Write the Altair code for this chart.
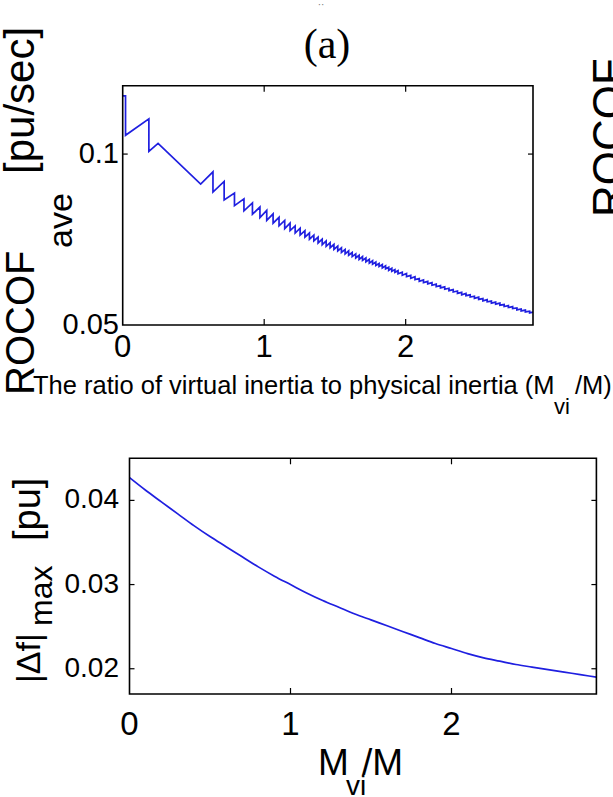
import altair as alt
import pandas as pd

# ---------------- data ----------------
# Panel (a) top: ROCOF_ave vs Mvi/M  (saw-tooth curve)
top_head_x = [0.0, 0.02, 0.02, 0.185, 0.185, 0.250, 0.551]
top_head_y = [0.1170, 0.1170, 0.1055, 0.1103, 0.1008, 0.1031, 0.0912]

tooth_x = [0.638, 0.717, 0.790, 0.857, 0.917, 0.970, 1.018, 1.063, 1.105, 1.145,
           1.183, 1.219, 1.254, 1.288, 1.320, 1.351, 1.381, 1.410, 1.438, 1.466,
           1.493, 1.520, 1.546, 1.572, 1.597, 1.622, 1.647, 1.671, 1.695, 1.719,
           1.743, 1.766, 1.789, 1.812, 1.835, 1.858, 1.880, 1.902, 1.924, 1.946,
           1.976, 2.006, 2.036, 2.066, 2.096, 2.126, 2.156, 2.186, 2.216, 2.246,
           2.276, 2.306, 2.336, 2.366, 2.396, 2.426, 2.456, 2.486, 2.516, 2.546,
           2.576, 2.606, 2.636, 2.666, 2.696, 2.726, 2.756, 2.786, 2.816, 2.846,
           2.876]
tooth_hi = [0.0948, 0.0920, 0.0886, 0.0869, 0.0857, 0.0845, 0.0835, 0.0825, 0.0815, 0.0806,
            0.0798, 0.0790, 0.0783, 0.0776, 0.0769, 0.0763, 0.0757, 0.0751, 0.0746, 0.0741,
            0.0736, 0.0731, 0.0726, 0.0721, 0.0717, 0.0712, 0.0708, 0.0704, 0.0700, 0.0696,
            0.0692, 0.0688, 0.0684, 0.0680, 0.0677, 0.0673, 0.0669, 0.0666, 0.0662, 0.0659,
            0.06545, 0.06505, 0.06453, 0.06412, 0.06360, 0.06319, 0.06278, 0.06237, 0.06196, 0.06155,
            0.06115, 0.06075, 0.06035, 0.05995, 0.05955, 0.05923, 0.05883, 0.05843, 0.05812, 0.05772,
            0.05741, 0.05700, 0.05670, 0.05640, 0.05598, 0.05568, 0.05538, 0.05497, 0.05467, 0.05436,
            0.05405]
tooth_lo = [0.0889, 0.0866, 0.0849, 0.0834, 0.0824, 0.0814, 0.0806, 0.0798, 0.0790, 0.0782,
            0.0776, 0.0769, 0.0763, 0.0757, 0.0751, 0.0746, 0.0740, 0.0735, 0.0730, 0.0726,
            0.0721, 0.0717, 0.0712, 0.0708, 0.0704, 0.0700, 0.0696, 0.0692, 0.0689, 0.0685,
            0.0681, 0.0678, 0.0674, 0.0671, 0.0667, 0.0664, 0.0660, 0.0657, 0.0654, 0.0650,
            0.06455, 0.06415, 0.06367, 0.06328, 0.06280, 0.06241, 0.06202, 0.06163, 0.06124, 0.06085,
            0.06045, 0.06005, 0.05965, 0.05925, 0.05885, 0.05857, 0.05817, 0.05777, 0.05748, 0.05708,
            0.05679, 0.05640, 0.05610, 0.05580, 0.05542, 0.05512, 0.05482, 0.05443, 0.05413, 0.05384,
            0.05355]
top_end_x = [2.9]
top_end_y = [0.05375]

# Bottom panel: |Δf|max vs Mvi/M
bot_x = [0.0, 0.1, 0.2, 0.3, 0.4, 0.5, 0.6, 0.7, 0.8, 0.9,
         1.0, 1.1, 1.2, 1.3, 1.4, 1.5, 1.6, 1.7, 1.8, 1.9,
         2.0, 2.1, 2.2, 2.3, 2.4, 2.5, 2.6, 2.7, 2.8, 2.9]
bot_y = [0.0427, 0.0412, 0.0398, 0.0384, 0.0370, 0.0357, 0.0345, 0.0333, 0.0321, 0.0310,
         0.0300, 0.0290, 0.0281, 0.0273, 0.0265, 0.0258, 0.0251, 0.0244, 0.0237, 0.0230,
         0.0224, 0.0218, 0.0213, 0.0209, 0.0205, 0.0202, 0.0199, 0.0196, 0.0193, 0.0190]

# axis limits and tick labels
x_limits = [0.0, 2.9]
top_y_limits = [0.05, 0.12]
bot_y_limits = [0.017, 0.045]
x_tick_vals = [0, 1, 2]
x_tick_text = ["0", "1", "2"]
top_y_tick_vals = [0.05, 0.1]
top_y_tick_text = ["0.05", "0.1"]
bot_y_tick_vals = [0.02, 0.03, 0.04]
bot_y_tick_text = ["0.02", "0.03", "0.04"]

# ---------------- layout / style ----------------
W, H = 613, 797
T_L, T_R, T_T, T_B = 122.7, 533.0, 85.7, 325.0
B_L, B_R, B_T, B_B = 129.5, 596.4, 458.3, 694.0
BLUE = "#1f1fe0"
SANS = "Liberation Sans, Arial, sans-serif"
SERIF = "Liberation Serif, Times New Roman, serif"

TX = alt.Scale(domain=x_limits, range=[T_L, T_R], nice=False, zero=False)
TY = alt.Scale(domain=top_y_limits, range=[T_B, T_T], nice=False, zero=False)
BX = alt.Scale(domain=x_limits, range=[B_L, B_R], nice=False, zero=False)
BY = alt.Scale(domain=bot_y_limits, range=[B_B, B_T], nice=False, zero=False)

# ---------------- build top curve table ----------------
rows = list(zip(top_head_x, top_head_y))
for xv, hv, lv in zip(tooth_x, tooth_hi, tooth_lo):
    rows.append((xv, hv))
    rows.append((xv, lv))
rows += list(zip(top_end_x, top_end_y))
top_df = pd.DataFrame(rows, columns=["x", "y"])
top_df["i"] = range(len(top_df))
bot_df = pd.DataFrame({"x": bot_x, "y": bot_y})

layers = []


def frame(xs, ys, ylim):
    df = pd.DataFrame({"x0": [x_limits[0]], "x1": [x_limits[1]],
                       "y0": [ylim[0]], "y1": [ylim[1]]})
    return alt.Chart(df).mark_rect(fill="transparent", stroke="black", strokeWidth=1.6).encode(
        x=alt.X("x0:Q", scale=xs, axis=None), x2="x1:Q",
        y=alt.Y("y0:Q", scale=ys, axis=None), y2="y1:Q")


def xticks(xs, vals, y0, y1):
    return alt.Chart(pd.DataFrame({"v": vals})).mark_rule(color="black", strokeWidth=1.2).encode(
        x=alt.X("v:Q", scale=xs, axis=None), y=alt.value(y0), y2=alt.value(y1))


def yticks(ys, vals, x0, x1):
    return alt.Chart(pd.DataFrame({"v": vals})).mark_rule(color="black", strokeWidth=1.2).encode(
        y=alt.Y("v:Q", scale=ys, axis=None), x=alt.value(x0), x2=alt.value(x1))


def xlabels(xs, vals, texts, ytop, size):
    return alt.Chart(pd.DataFrame({"v": vals, "t": texts})).mark_text(
        align="center", baseline="top", font=SANS, fontSize=size, color="black").encode(
        x=alt.X("v:Q", scale=xs, axis=None), y=alt.value(ytop), text="t:N")


def ylabels(ys, vals, texts, xright, size):
    return alt.Chart(pd.DataFrame({"v": vals, "t": texts})).mark_text(
        align="right", baseline="middle", font=SANS, fontSize=size, color="black").encode(
        y=alt.Y("v:Q", scale=ys, axis=None), x=alt.value(xright), text="t:N")


def txt(s, x, y, size, font, angle=0, align="left", baseline="alphabetic", color="black"):
    return alt.Chart(pd.DataFrame({"t": [s]})).mark_text(
        align=align, baseline=baseline, fontSize=size, font=font, angle=angle, color=color).encode(
        x=alt.value(x), y=alt.value(y), text="t:N")


# top panel
layers.append(alt.Chart(top_df).mark_line(color=BLUE, strokeWidth=1.7).encode(
    x=alt.X("x:Q", scale=TX, axis=None), y=alt.Y("y:Q", scale=TY, axis=None),
    order=alt.Order("i:Q")))
layers.append(frame(TX, TY, top_y_limits))
layers.append(xticks(TX, [1, 2], T_B, T_B - 6))
layers.append(xticks(TX, [1, 2], T_T, T_T + 6))
layers.append(yticks(TY, [0.1], T_L, T_L + 5))
layers.append(yticks(TY, [0.1], T_R, T_R - 5))
layers.append(xlabels(TX, x_tick_vals, x_tick_text, 333, 31))
layers.append(ylabels(TY, top_y_tick_vals, top_y_tick_text, 119, 29))

# bottom panel
layers.append(alt.Chart(bot_df).mark_line(color=BLUE, strokeWidth=1.7, interpolate="monotone").encode(
    x=alt.X("x:Q", scale=BX, axis=None), y=alt.Y("y:Q", scale=BY, axis=None)))
layers.append(frame(BX, BY, bot_y_limits))
layers.append(xticks(BX, [1, 2], B_B, B_B - 6))
layers.append(xticks(BX, [1, 2], B_T, B_T + 6))
layers.append(yticks(BY, bot_y_tick_vals, B_L, B_L + 5))
layers.append(yticks(BY, bot_y_tick_vals, B_R, B_R - 5))
layers.append(xlabels(BX, x_tick_vals, x_tick_text, 709, 33))
layers.append(ylabels(BY, bot_y_tick_vals, bot_y_tick_text, 119, 28))

# titles and labels
layers.append(txt("(a)", 327, 58, 42, SERIF, align="center"))
layers.append(txt("··", 321, 8, 10, SANS, align="center", color="#777777"))
layers.append(txt("The ratio of virtual inertia to physical inertia (M", 33, 394, 25.5, SANS))
layers.append(txt("vi", 554, 414, 22, SANS))
layers.append(txt("/M)", 575, 394, 25.5, SANS))
layers.append(txt("ROCOF", 34, 395, 40, SANS, angle=270))
layers.append(txt("ave", 72, 248, 34, SANS, angle=270))
layers.append(txt("[pu/sec]", 34, 174, 42, SANS, angle=270))
layers.append(txt("ROCOF", 624, 217, 44, SANS, angle=270))
layers.append(txt("|Δf|", 40, 683, 34, SANS, angle=270))
layers.append(txt("max", 52, 626, 32, SANS, angle=270))
layers.append(txt("[pu]", 40, 541, 38, SANS, angle=270))
layers.append(txt("M", 318, 775, 37, SANS))
layers.append(txt("vi", 346, 795, 28, SANS))
layers.append(txt("/M", 362, 775, 37, SANS))

chart = alt.layer(*layers).resolve_scale(x="independent", y="independent").properties(
    width=W, height=H, autosize=alt.AutoSizeParams(type="none"), padding=0
).configure_view(stroke=None)

chart.save("out.html", embed_options={"renderer": "svg", "actions": False})
